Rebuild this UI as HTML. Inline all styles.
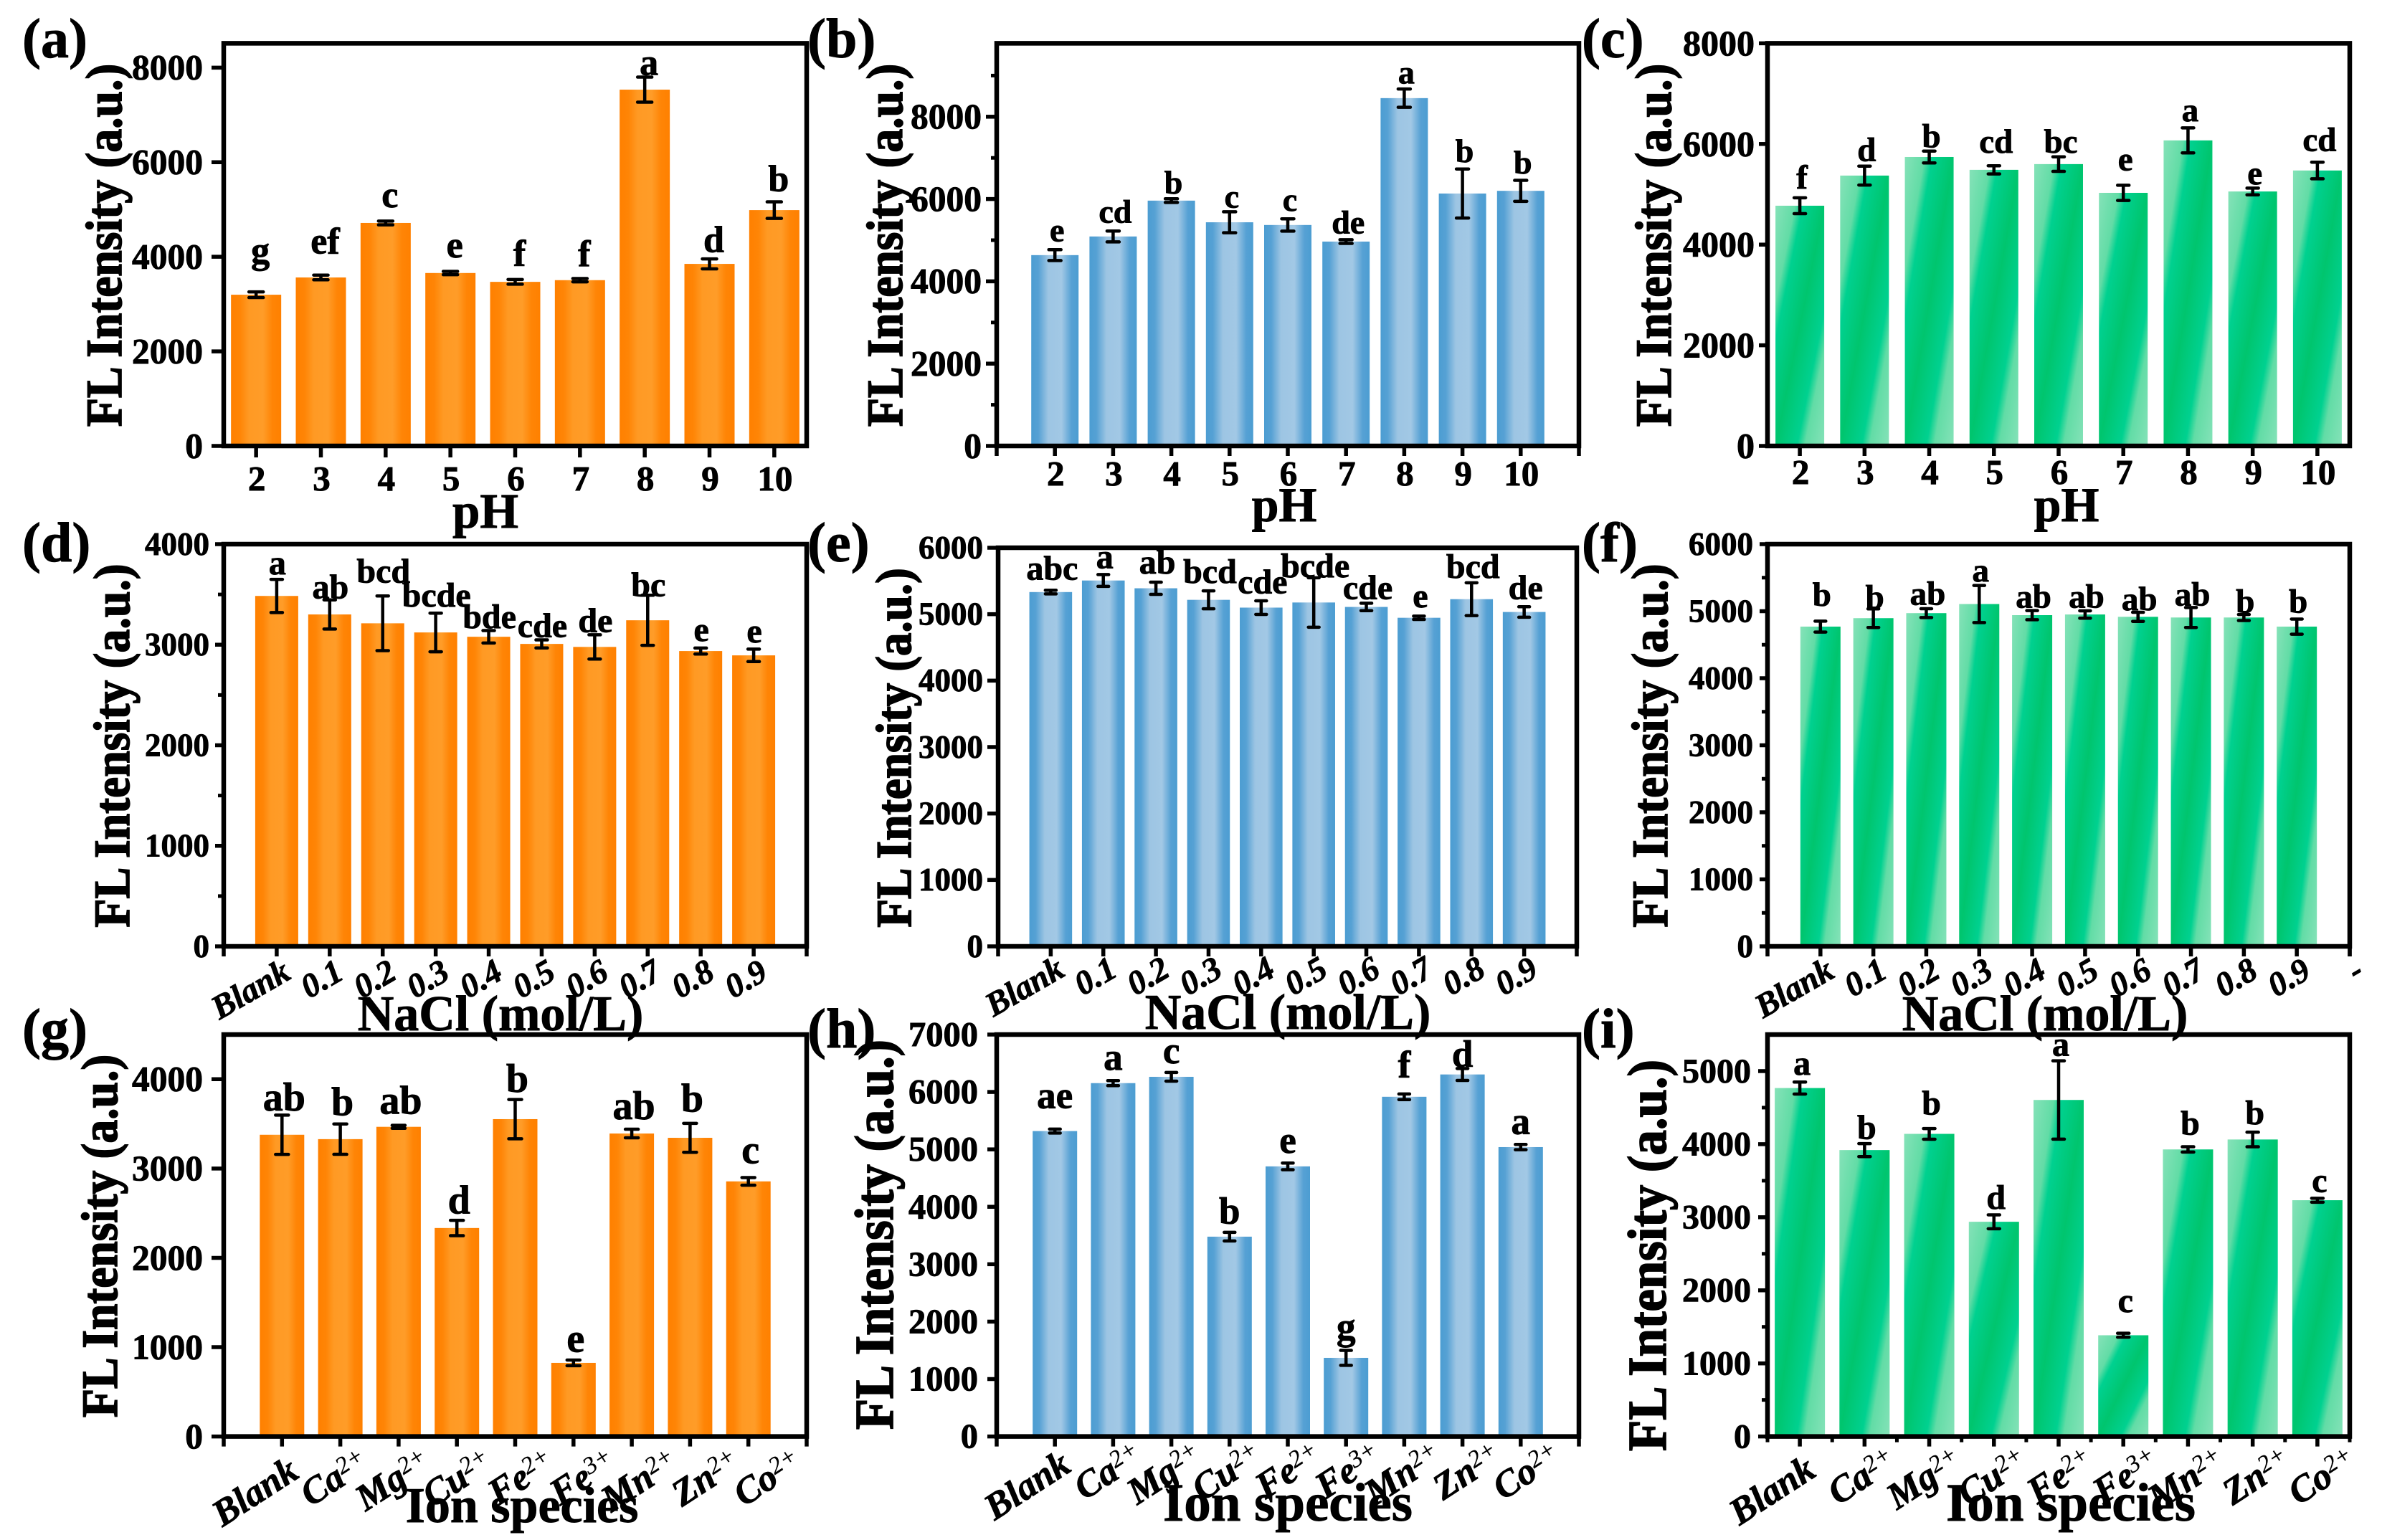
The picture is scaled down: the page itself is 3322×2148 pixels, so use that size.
<!DOCTYPE html>
<html lang="en">
<head>
<meta charset="utf-8">
<title>FL intensity bar chart panels</title>
<style>
html,body{margin:0;padding:0;background:#fff;}
svg{display:block;font-family:"Liberation Serif","Times New Roman",serif;font-weight:bold;fill:#000;}
text{stroke:#000;stroke-width:0.9px;}
tspan.sup{stroke-width:0.3px;}
</style>
</head>
<body>
<svg id="figure" xmlns="http://www.w3.org/2000/svg" width="3322" height="2148" viewBox="0 0 3322 2148">
<defs>
<linearGradient id="grad-orange" x1="0" y1="0" x2="1" y2="0">
<stop offset="0" stop-color="#ff8000"/><stop offset="0.18" stop-color="#ff8506"/><stop offset="0.36" stop-color="#ff9a24"/><stop offset="0.64" stop-color="#ff9c28"/><stop offset="0.82" stop-color="#ff8506"/><stop offset="1" stop-color="#ff8000"/>
</linearGradient>
<linearGradient id="grad-blue" x1="0" y1="0" x2="1" y2="0">
<stop offset="0" stop-color="#4c9dd2"/><stop offset="0.15" stop-color="#56a1d4"/><stop offset="0.36" stop-color="#9dc5e3"/><stop offset="0.64" stop-color="#a2c8e5"/><stop offset="0.85" stop-color="#56a1d4"/><stop offset="1" stop-color="#4c9dd2"/>
</linearGradient>
<linearGradient id="grad-green" x1="0" y1="0" x2="1" y2="1">
<stop offset="0" stop-color="#85e2b8"/><stop offset="0.2" stop-color="#62dca6"/><stop offset="0.28" stop-color="#00d190"/><stop offset="0.5" stop-color="#00c56e"/><stop offset="0.72" stop-color="#00d190"/><stop offset="0.8" stop-color="#62dca6"/><stop offset="1" stop-color="#85e2b8"/>
</linearGradient>
</defs>
</svg>
<script>
// ---------- shared categories ----------
const categoriesPh = ["2","3","4","5","6","7","8","9","10"];
const categoriesNaCl = ["Blank","0.1","0.2","0.3","0.4","0.5","0.6","0.7","0.8","0.9"];
const categoriesNaClExtra = ["Blank","0.1","0.2","0.3","0.4","0.5","0.6","0.7","0.8","0.9","-"];
const categoriesIon = ["Blank","Ca^2+","Mg^2+","Cu^2+","Fe^2+","Fe^3+","Mn^2+","Zn^2+","Co^2+"];

// ---------- y tick labels ----------
const yTicksA = [0,2000,4000,6000,8000];
const yTicksB = [0,2000,4000,6000,8000];
const yTicksC = [0,2000,4000,6000,8000];
const yTicksD = [0,1000,2000,3000,4000];
const yTicksE = [0,1000,2000,3000,4000,5000,6000];
const yTicksF = [0,1000,2000,3000,4000,5000,6000];
const yTicksG = [0,1000,2000,3000,4000];
const yTicksH = [0,1000,2000,3000,4000,5000,6000,7000];
const yTicksI = [0,1000,2000,3000,4000,5000];

// ---------- series values, error half-widths, significance letters, letter lift (data units above error cap) ----------
const valuesA = [3198,3563,4716,3657,3470,3506,7535,3850,4987];
const errorsA = [60,50,40,35,50,35,265,105,175];
const lettersA = ["g","ef","c","e","f","f","a","d","b"];
const liftsA = [615,458,293,293,293,265,43,150,229];

const valuesB = [4637,5090,5961,5435,5369,4966,8452,6134,6199];
const errorsB = [132,132,45,255,150,45,222,596,255];
const lettersB = ["e","cd","b","c","c","de","a","b","b"];
const liftsB = [205,205,130,100,197,156,130,172,164];

const valuesC = [4773,5372,5741,5486,5600,5029,6071,5056,5473];
const errorsC = [158,188,118,81,145,151,249,67,165];
const lettersC = ["f","d","b","cd","bc","e","a","e","cd"];
const liftsC = [182,101,74,262,81,296,134,74,222];

const valuesD = [3485,3301,3213,3122,3079,3008,2978,3243,2937,2894];
const errorsD = [165,145,272,192,62,40,121,249,30,62];
const lettersD = ["a","ab","bcd","bcde","bde","cde","de","bc","e","e"];
const liftsD = [50,17,134,67,24,27,27,-10,71,67];

const valuesE = [5333,5507,5390,5216,5099,5176,5109,4946,5226,5033];
const errorsE = [28,89,92,135,102,372,56,25,247,79];
const lettersE = ["abc","a","ab","bcd","cde","bcde","cde","e","bcd","de"];
const liftsE = [158,97,132,122,112,10,66,132,76,117];

const valuesF = [4770,4896,4971,5107,4941,4951,4916,4906,4906,4770];
const errorsF = [81,139,66,277,68,55,68,149,45,113];
const lettersF = ["b","b","ab","a","ab","ab","ab","ab","b","b"];
const liftsF = [227,10,61,61,45,50,30,30,25,96];

const valuesG = [3378,3329,3467,2334,3553,824,3392,3344,2856];
const errorsG = [220,170,17,86,220,32,48,162,43];
const lettersG = ["ab","b","ab","d","b","e","ab","b","c"];
const liftsG = [52,97,127,78,86,93,112,130,160];

const valuesH = [5319,6154,6264,3480,4704,1369,5916,6305,5040];
const errorsH = [35,44,75,75,58,130,49,104,46];
const lettersH = ["ae","a","c","b","e","g","f","d","a"];
const liftsH = [365,191,162,151,180,197,290,29,186];

const valuesI = [4768,3919,4141,2938,4605,1385,3928,4064,3233];
const errorsI = [82,89,73,95,536,27,36,100,27];
const lettersI = ["a","b","b","d","a","c","b","b","c"];
const liftsI = [100,64,191,82,68,291,168,109,86];

// ---------- drawing ----------
const svg = document.getElementById('figure');
const NS = 'http://www.w3.org/2000/svg';

function make(tag, attrs, parent, text) {
  const node = document.createElementNS(NS, tag);
  for (const k in attrs) node.setAttribute(k, attrs[k]);
  if (text !== undefined) node.textContent = text;
  parent.appendChild(node);
  return node;
}

function drawPanel(p) {
  const g = make('g', {}, svg);
  
  

  const n = p.values.length;
  const yScale = v => p.B - (v / p.yMax) * (p.B - p.T);
  const xScale = i => p.L + (i + p.pad) * (p.R - p.L) / (n - 1 + 2 * p.pad);

  // panel letter
  const tag = make('text', {x: p.tagX, y: p.tagY, 'font-size': 78}, g, '(' + p.id + ')');
  
  

  // x title (drawn first so the neighbouring frames overlap it like the source)
  const xTitle = make('text', {x: p.xTitleX, y: p.xTitleY, 'font-size': p.xTitleSize, 'text-anchor': 'middle'}, g, p.xTitle);
  
  

  // bars
  for (let i = 0; i < n; i++) {
    const top = yScale(p.values[i]);
    const bar = make('rect', {x: xScale(i) - p.barW / 2, y: top, width: p.barW, height: p.B - top, fill: 'url(#' + p.fill + ')'}, g);
    
    
  }

  // frame
  const frame = make('rect', {x: p.L, y: p.T, width: p.R - p.L, height: p.B - p.T, fill: 'none', stroke: '#000', 'stroke-width': 6.5}, g);
  
  

  // y ticks
  p.yTicks.forEach(v => {
    const y = yScale(v);
    const t = make('line', {x1: p.L, x2: p.L - p.yTickLen, y1: y, y2: y, stroke: '#000', 'stroke-width': 5.5}, g);
    
    
    const lab = make('text', {x: p.yLabelX, y: y + p.yLabelSize * 0.33, 'font-size': p.yLabelSize, 'text-anchor': 'end'}, g, String(v));
    
    
  });
  if (p.yMinor) {
    for (let v = p.yMinor; v < p.yMax; v += 2 * p.yMinor) {
      const y = yScale(v);
      const t = make('line', {x1: p.L, x2: p.L - 8, y1: y, y2: y, stroke: '#000', 'stroke-width': 5}, g);
      
      
    }
  }

  // x ticks and labels
  p.categories.forEach((c, i) => {
    const x = i < n ? xScale(i) : p.R;
    const t = make('line', {x1: x, x2: x, y1: p.B, y2: p.B + p.xTickLen, stroke: '#000', 'stroke-width': 5.5}, g);
    
    
    let lab;
    if (p.xRot) {
      const parts = c.split('^');
      const hasSup = parts.length > 1;
      const ex = x + p.xShift + p.xDrift * i + (hasSup ? 0 : (p.plainShift || 0));
      const ey = p.B + p.xDrop - (hasSup ? 12 : 0);
      lab = make('text', {transform: 'translate(' + ex + ' ' + ey + ') rotate(' + p.xRot + ')', 'font-size': p.xLabelSize, 'font-style': 'italic', 'text-anchor': 'end'}, g);
      make('tspan', {}, lab, parts[0]);
      if (hasSup) make('tspan', {class: 'sup', dy: '-0.42em', 'font-size': '65%', 'font-weight': 'normal'}, lab, parts[1]);
    } else {
      lab = make('text', {x: x + 1, y: p.xLabelY, 'font-size': p.xLabelSize, 'text-anchor': 'middle'}, g, c);
    }
    
    
  });
  if (p.pad === 1) {
    [p.L, p.R].forEach(x => {
      const t = make('line', {x1: x, x2: x, y1: p.B, y2: p.B + p.xTickLen, stroke: '#000', 'stroke-width': 5.5}, g);
      
      
    });
  }
  if (p.xMinor) {
    for (let i = -0.5; i <= n - 0.5; i += 1) {
      const x = xScale(i);
      const t = make('line', {x1: x, x2: x, y1: p.B, y2: p.B + 8, stroke: '#000', 'stroke-width': 5}, g);
      
      
    }
  }

  // y title
  const yTitle = make('text', {transform: 'translate(' + p.yTitleX + ' ' + p.yTitleY + ') rotate(-90) scale(1 1.08)', 'font-size': p.yTitleLen / 7.778, 'text-anchor': 'middle', style: 'stroke-width:1.6px'}, g, 'FL Intensity (a.u.)');
  
  

  // error bars and significance letters
  for (let i = 0; i < n; i++) {
    const x = xScale(i);
    const hi = yScale(p.values[i] + p.errors[i]);
    const lo = yScale(p.values[i] - p.errors[i]);
    const stem = make('line', {x1: x, x2: x, y1: hi, y2: lo, stroke: '#000', 'stroke-width': 4.5}, g);
    
    
    [hi, lo].forEach(y => {
      const cap = make('line', {x1: x - p.capW / 2, x2: x + p.capW / 2, y1: y, y2: y, stroke: '#000', 'stroke-width': 4.5, 'stroke-linecap': 'round'}, g);
      
      
    });
    const letter = make('text', {x: x + p.letterDx, y: yScale(p.values[i] + p.errors[i] + p.lifts[i]), 'font-size': p.letterSize, 'text-anchor': 'middle'}, g, p.letters[i]);
    
    
  }
}

drawPanel({id:'a', L:312, R:1125, T:60.4, B:622, yMax:8515, pad:0.5, barW:70, fill:'grad-orange', categories:categoriesPh, yTicks:yTicksA, values:valuesA, errors:errorsA, letters:lettersA, lifts:liftsA,
  tagX:31, tagY:80, xTitle:'pH', xTitleX:677, xTitleY:736, xTitleSize:69, yTitleX:169, yTitleY:342, yTitleLen:510,
  yLabelX:283, yLabelSize:49.5, yTickLen:17, xTickLen:16, xLabelY:684, xLabelSize:49, capW:20, letterDx:6, letterSize:52});

drawPanel({id:'b', L:1390, R:2202, T:60.4, B:622, yMax:9784, yMinor:1000, pad:1, barW:66, fill:'grad-blue', categories:categoriesPh, yTicks:yTicksB, values:valuesB, errors:errorsB, letters:lettersB, lifts:liftsB,
  tagX:1126, tagY:80, xTitle:'pH', xTitleX:1791, xTitleY:727, xTitleSize:68, yTitleX:1258, yTitleY:342, yTitleLen:510,
  yLabelX:1369, yLabelSize:49.5, yTickLen:15, xTickLen:14, xLabelY:677, xLabelSize:49, capW:17, letterDx:3, letterSize:46});

drawPanel({id:'c', L:2465, R:3277, T:60.4, B:622, yMax:8000, pad:0.5, barW:68, fill:'grad-green', categories:categoriesPh, yTicks:yTicksC, values:valuesC, errors:errorsC, letters:lettersC, lifts:liftsC,
  tagX:2206, tagY:80, xTitle:'pH', xTitleX:2882, xTitleY:727, xTitleSize:68, yTitleX:2330, yTitleY:342, yTitleLen:510,
  yLabelX:2447, yLabelSize:50, yTickLen:12, xTickLen:14, xLabelY:675, xLabelSize:49, capW:16, letterDx:3, letterSize:47});

drawPanel({id:'d', L:312, R:1125, T:759, B:1320, yMax:4000, yMinor:500, pad:1, barW:60, fill:'grad-orange', categories:categoriesNaCl, yTicks:yTicksD, values:valuesD, errors:errorsD, letters:lettersD, lifts:liftsD,
  tagX:31, tagY:783, xTitle:'NaCl (mol/L)', xTitleX:698, xTitleY:1437, xTitleSize:70, yTitleX:180, yTitleY:1040, yTitleLen:511,
  yLabelX:292, yLabelSize:45, yTickLen:12, xTickLen:14, xRot:-30, xShift:24, xDrift:0, plainShift:-2, xDrop:44, xLabelSize:47, capW:16, letterDx:1, letterSize:48});

drawPanel({id:'e', L:1392, R:2199, T:764, B:1320, yMax:6000, pad:1, barW:59.6, fill:'grad-blue', categories:categoriesNaCl, yTicks:yTicksE, values:valuesE, errors:errorsE, letters:lettersE, lifts:liftsE,
  tagX:1126, tagY:783, xTitle:'NaCl (mol/L)', xTitleX:1796, xTitleY:1435, xTitleSize:70, yTitleX:1270, yTitleY:1043, yTitleLen:505,
  yLabelX:1371, yLabelSize:45, yTickLen:15, xTickLen:14, xRot:-30, xShift:24, xDrift:0, plainShift:-2, xDrop:40, xLabelSize:47, capW:15, letterDx:2, letterSize:48});

drawPanel({id:'f', L:2465, R:3277, T:759, B:1320, yMax:6000, yMinor:500, pad:1, barW:56, fill:'grad-green', categories:categoriesNaClExtra, yTicks:yTicksF, values:valuesF, errors:errorsF, letters:lettersF, lifts:liftsF,
  tagX:2206, tagY:783, xTitle:'NaCl (mol/L)', xTitleX:2852, xTitleY:1437, xTitleSize:70, yTitleX:2325, yTitleY:1040, yTitleLen:511,
  yLabelX:2445, yLabelSize:45, yTickLen:11, xTickLen:14, xRot:-30, xShift:24, xDrift:0, plainShift:-2, xDrop:42, xLabelSize:47, capW:15, letterDx:2, letterSize:47});

drawPanel({id:'g', L:312, R:1125, T:1443, B:2003.6, yMax:4500, pad:1, barW:62, fill:'grad-orange', categories:categoriesIon, yTicks:yTicksG, values:valuesG, errors:errorsG, letters:lettersG, lifts:liftsG,
  tagX:31, tagY:1461, xTitle:'Ion species', xTitleX:728, xTitleY:2123, xTitleSize:70, yTitleX:163, yTitleY:1724, yTitleLen:510,
  yLabelX:283, yLabelSize:49.5, yTickLen:17, xTickLen:14, xRot:-33, xShift:38, xDrift:5, plainShift:-12, xDrop:56, xLabelSize:52, capW:18, letterDx:3, letterSize:56});

drawPanel({id:'h', L:1390, R:2202, T:1443, B:2003.6, yMax:7000, pad:1, barW:62, fill:'grad-blue', categories:categoriesIon, yTicks:yTicksH, values:valuesH, errors:errorsH, letters:lettersH, lifts:liftsH,
  tagX:1126, tagY:1461, xTitle:'Ion species', xTitleX:1796, xTitleY:2121, xTitleSize:75, yTitleX:1245, yTitleY:1722, yTitleLen:548,
  yLabelX:1364, yLabelSize:48.5, yTickLen:13, xTickLen:14, xRot:-33, xShift:42, xDrift:2.2, plainShift:-17, xDrop:47, xLabelSize:52, capW:15, letterDx:0, letterSize:53});

drawPanel({id:'i', L:2465, R:3277, T:1443, B:2003.6, yMax:5500, yMinor:500, pad:0.5, xMinor:true, barW:70, fill:'grad-green', categories:categoriesIon, yTicks:yTicksI, values:valuesI, errors:errorsI, letters:lettersI, lifts:liftsI,
  tagX:2206, tagY:1461, xTitle:'Ion species', xTitleX:2888, xTitleY:2121, xTitleSize:75, yTitleX:2323, yTitleY:1751, yTitleLen:550,
  yLabelX:2442, yLabelSize:48, yTickLen:13, xTickLen:14, xRot:-33, xShift:46, xDrift:1.5, plainShift:-21, xDrop:54, xLabelSize:52, capW:16, letterDx:3, letterSize:48});
</script>
</body>
</html>
